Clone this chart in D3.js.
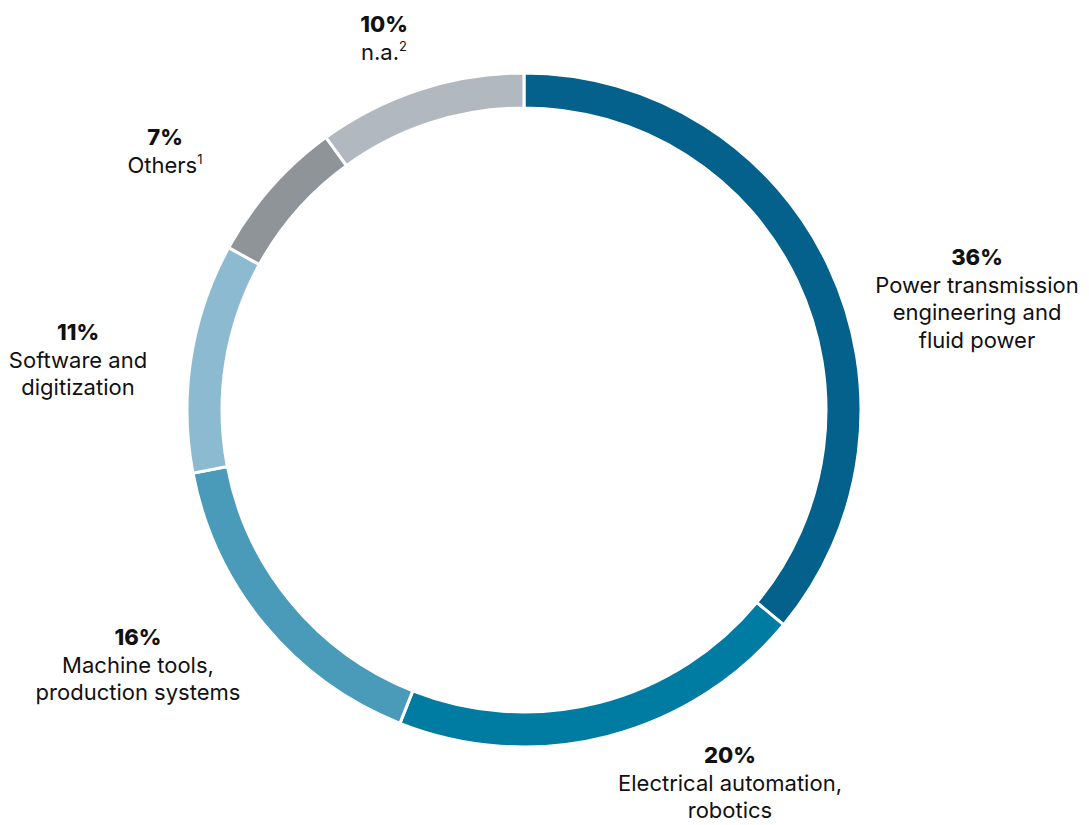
<!DOCTYPE html>
<html><head><meta charset="utf-8">
<script src="https://cdn.jsdelivr.net/npm/d3@7"></script>
<style>
html,body{margin:0;padding:0;background:#fff;}
svg{display:block;}
text{font-family:Inter,Lato,"Open Sans",sans-serif;fill:#111;}
</style></head>
<body>
<svg id="chart" width="1089" height="825"></svg>
<script>
// ---- data ----
const categories = ["Power transmission engineering and fluid power","Electrical automation, robotics","Machine tools, production systems","Software and digitization","Others","n.a."];
const values = [36, 20, 16, 11, 7, 10];
const labelLines = [
  ["Power transmission","engineering and","fluid power"],
  ["Electrical automation,","robotics"],
  ["Machine tools,","production systems"],
  ["Software and","digitization"],
  ["Others"],
  ["n.a."]
];
const footnotes = ["", "", "", "", "1", "2"];
const colors = ["#03618b","#007ca3","#4a9bb9","#8cbad1","#8f9499","#b1b8c0"];

// ---- layout ----
const W = 1089, H = 825;
const cx = 524, cy = 410, rOuter = 337, rInner = 302;
// label anchor (center x, baseline of the percentage line)
const labelAnchor = [[977,265],[730,763],[138,645],[78,340],[165,145],[384,32]];
const lineH = 27.5;

const svg = d3.select("#chart");
const g = svg.append("g").attr("transform",`translate(${cx},${cy})`);

const data = categories.map((c,i)=>({cat:c, value:values[i], i}));
const pie = d3.pie().value(d=>d.value).sort(null);
const arc = d3.arc().innerRadius(rInner).outerRadius(rOuter);

g.selectAll("path").data(pie(data)).join("path")
  .attr("d", arc)
  .attr("fill", d=>colors[d.data.i])
  .attr("stroke","#fff").attr("stroke-width",3).attr("stroke-linejoin","miter");

const lab = svg.append("g");
data.forEach((d,i)=>{
  const [x,y] = labelAnchor[i];
  const t = lab.append("text").attr("text-anchor","middle").attr("x",x).attr("y",y);
  t.append("tspan").attr("x",x).attr("y",y).attr("font-weight",800).attr("font-size",22).text(d.value+"%");
  labelLines[i].forEach((ln,k)=>{
    const ts = t.append("tspan").attr("x",x).attr("y",y+lineH*(k+1)).attr("font-size",22);
    ts.text(ln);
    if (k===labelLines[i].length-1 && footnotes[i]) {
      t.append("tspan").attr("font-size",13).attr("dy",-9).text(footnotes[i]);
    }
  });
});
</script>
</body></html>
